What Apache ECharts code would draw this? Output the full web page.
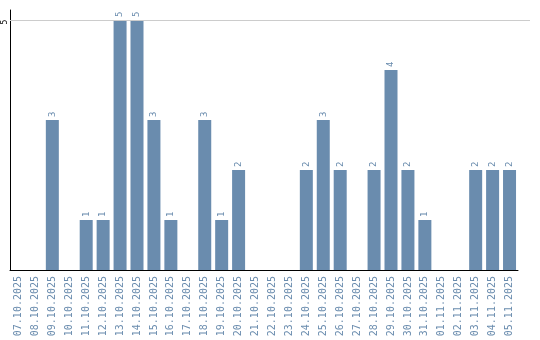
<!DOCTYPE html>
<html><head><meta charset="utf-8">
<script src="https://cdn.jsdelivr.net/npm/echarts@6/dist/echarts.min.js"></script>
<style>html,body{margin:0;padding:0;background:#fff}#c{width:540px;height:340px}</style>
</head><body><div id="c"></div>
<script>
const categories = ['07.10.2025','08.10.2025','09.10.2025','10.10.2025','11.10.2025','12.10.2025','13.10.2025','14.10.2025','15.10.2025','16.10.2025','17.10.2025','18.10.2025','19.10.2025','20.10.2025','21.10.2025','22.10.2025','23.10.2025','24.10.2025','25.10.2025','26.10.2025','27.10.2025','28.10.2025','29.10.2025','30.10.2025','31.10.2025','01.11.2025','02.11.2025','03.11.2025','04.11.2025','05.11.2025'];
const values = [0,0,3,0,1,1,5,5,3,1,0,3,1,2,0,0,0,2,3,2,0,2,4,2,1,0,0,2,2,2];
const yTicks = [5];
const barColor = '#6a8cae';
const mono = '"DejaVu Sans Mono", monospace';
const chart = echarts.init(document.getElementById('c'));
chart.setOption({
  animation: false,
  grid: [
    {left: 10, right: 22, top: 10, bottom: 70},
    {left: 10, right: 10, top: 10, bottom: 70}
  ],
  xAxis: [
    {type: 'category', data: categories, gridIndex: 0,
     axisLine: {lineStyle: {color: '#000', width: 1}}, axisTick: {show: false},
     axisLabel: {rotate: 90, color: barColor, fontFamily: mono, fontSize: 10, margin: 6, interval: 0}},
    {type: 'value', gridIndex: 1, min: 0, max: 1, show: false}
  ],
  yAxis: [
    {type: 'value', gridIndex: 0, min: 0, max: 5.2, interval: 5,
     axisLine: {show: true, lineStyle: {color: '#000', width: 1}}, axisTick: {show: false},
     splitLine: {show: false},
     axisLabel: {rotate: 90, fontSize: 8, color: '#000', fontFamily: mono, margin: 5,
       align: 'center', verticalAlign: 'middle', padding: [0, 4, 0, 0],
       formatter: v => yTicks.includes(v) ? String(v) : ''}},
    {type: 'value', gridIndex: 1, min: 0, max: 5.2, show: false}
  ],
  series: [
    {type: 'bar', xAxisIndex: 0, yAxisIndex: 0, data: values, barWidth: 13,
     itemStyle: {color: barColor},
     label: {show: true, position: 'top', rotate: 90, align: 'left', verticalAlign: 'middle', distance: 3,
       color: barColor, fontFamily: mono, fontSize: 9,
       formatter: p => p.value ? String(p.value) : ''}},
    {type: 'line', xAxisIndex: 1, yAxisIndex: 1, data: [], silent: true,
     markLine: {silent: true, symbol: 'none', label: {show: false},
       lineStyle: {color: '#cccccc', type: 'solid', width: 1},
       data: yTicks.map(t => ({yAxis: t}))}}
  ]
});
</script></body></html>
